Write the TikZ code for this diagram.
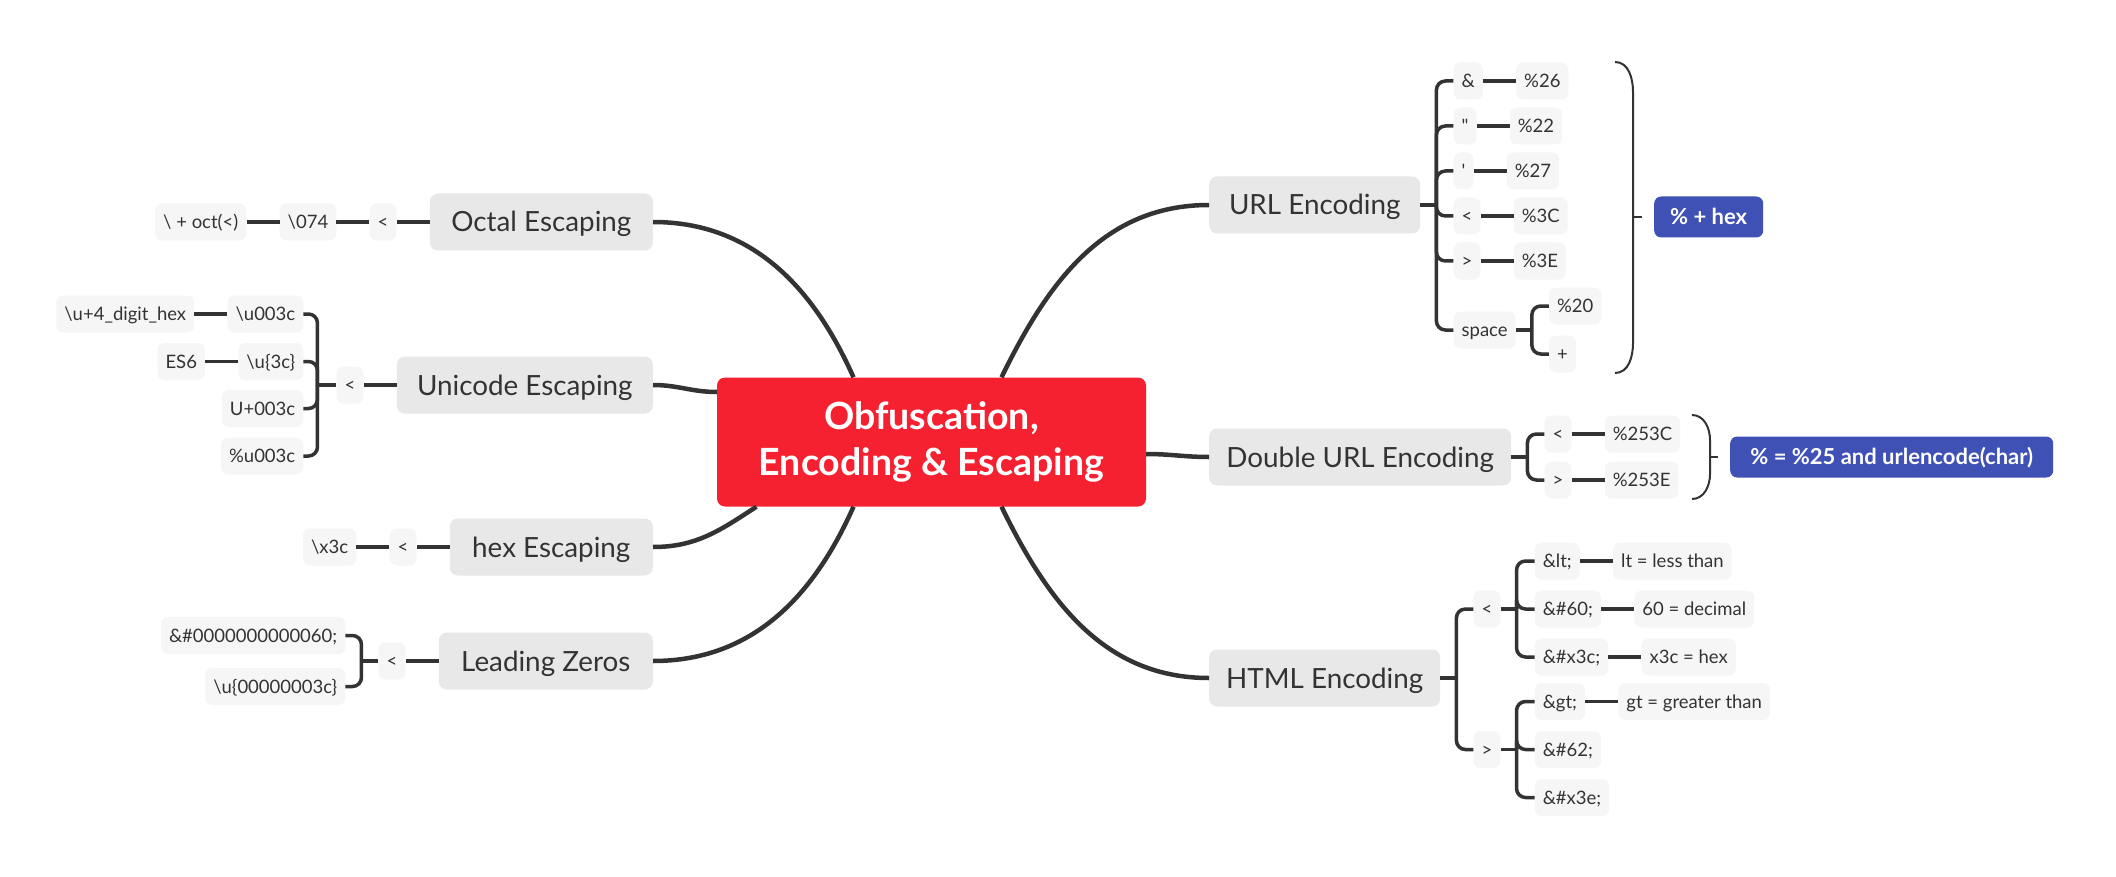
\documentclass[tikz,border=0pt]{standalone}
\usepackage{fontspec}
\setmainfont{Lato}
\usetikzlibrary{positioning}
\definecolor{mapred}{RGB}{246,33,48}
\definecolor{mapgray}{RGB}{232,232,232}
\definecolor{leafgray}{RGB}{246,246,246}
\definecolor{mapblue}{RGB}{64,81,181}
\definecolor{mapline}{RGB}{51,51,51}
\begin{document}
\begin{tikzpicture}[x=1pt,y=1pt,node distance=33pt,
        mainbox/.style={fill=mapred,text=white,rounded corners=8pt,minimum width=429pt,minimum height=129pt,align=center,font=\fontsize{37.5}{46}\selectfont\bfseries},
        topicbox/.style={fill=mapgray,text=mapline,rounded corners=8pt,minimum height=57pt,text height=20pt,text depth=0pt,font=\fontsize{27.8}{33}\selectfont},
        leafbox/.style={fill=leafgray,text=mapline,rounded corners=7pt,minimum height=37pt,inner xsep=8pt,text height=13.3pt,text depth=0pt,font=\fontsize{18.5}{22}\selectfont},
        notebox/.style={fill=mapblue,text=white,rounded corners=7pt,minimum height=41pt,text height=15.8pt,text depth=0pt,font=\fontsize{22}{26}\selectfont\bfseries},
        curve/.style={draw=mapline,line width=4.5pt},
        link/.style={draw=mapline,line width=3.5pt},
        bracket/.style={draw=mapline,line width=3.5pt,rounded corners=9pt},
        paren/.style={draw=mapline,line width=2pt}]
    \fill[white] (0,0) rectangle (2116,-877);
    \useasboundingbox (0,0) rectangle (2116,-877);

    \node[mainbox] (obf) at (931.5,-442){Obfuscation,\\Encoding \& Escaping};

    \node[topicbox,minimum width=223pt,anchor=east] (octal) at (653,-222){Octal Escaping};
    \node[leafbox,left=of octal] (octlt){<};
    \node[leafbox,left=of octlt] (oct074){\textbackslash074};
    \node[leafbox,left=of oct074] (octrule){\textbackslash{} + oct(<)};

    \node[topicbox,minimum width=256pt,anchor=east] (unicode) at (653,-385){Unicode Escaping};
    \node[leafbox,left=of unicode] (unilt){<};
    \node[leafbox,anchor=east] (uni4) at ([shift={(-33,71)}]unilt.west){\textbackslash u003c};
    \node[leafbox,anchor=east] (unies) at ([shift={(-33,23.5)}]unilt.west){\textbackslash u\{3c\}};
    \node[leafbox,anchor=east] (uniplus) at ([shift={(-33,-23.5)}]unilt.west){U+003c};
    \node[leafbox,anchor=east] (unipct) at ([shift={(-33,-71)}]unilt.west){\%u003c};
    \node[leafbox,left=of uni4] (uni4hex){\textbackslash u+4\_digit\_hex};
    \node[leafbox,left=of unies] (unies6){ES6};

    \node[topicbox,minimum width=203pt,anchor=east] (hex) at (653,-547){hex Escaping};
    \node[leafbox,left=of hex] (hexlt){<};
    \node[leafbox,left=of hexlt] (hexx){\textbackslash x3c};

    \node[topicbox,minimum width=214pt,anchor=east] (zeros) at (653,-661){Leading Zeros};
    \node[leafbox,left=of zeros] (zerolt){<};
    \node[leafbox,anchor=east] (zerohtml) at ([shift={(-33,25.5)}]zerolt.west){\&\#0000000000060;};
    \node[leafbox,anchor=east] (zerojs) at ([shift={(-33,-25.5)}]zerolt.west){\textbackslash u\{00000003c\}};

    \node[topicbox,minimum width=211pt,anchor=west] (url) at (1209,-205){URL Encoding};
    \node[leafbox,anchor=west] (urlamp) at ([shift={(33,124)}]url.east){\&};
    \node[leafbox,anchor=west] (urldq) at ([shift={(33,79)}]url.east){\textquotedbl};
    \node[leafbox,anchor=west] (urlsq) at ([shift={(33,34)}]url.east){\textquotesingle};
    \node[leafbox,anchor=west] (urllt) at ([shift={(33,-11)}]url.east){<};
    \node[leafbox,anchor=west] (urlgt) at ([shift={(33,-56)}]url.east){>};
    \node[leafbox,anchor=west] (urlsp) at ([shift={(33,-125)}]url.east){space};
    \node[leafbox,right=of urlamp] (urlamp26){\%26};
    \node[leafbox,right=of urldq] (urldq22){\%22};
    \node[leafbox,right=of urlsq] (urlsq27){\%27};
    \node[leafbox,right=of urllt] (urllt3c){\%3C};
    \node[leafbox,right=of urlgt] (urlgt3e){\%3E};
    \node[leafbox,anchor=west] (urlsp20) at ([shift={(33,24)}]urlsp.east){\%20};
    \node[leafbox,anchor=west] (urlspplus) at ([shift={(33,-24)}]urlsp.east){+};
    \node[notebox,minimum width=109pt,anchor=west] (hexnote) at (1654,-217){\% + hex};

    \node[topicbox,minimum width=302pt,anchor=west] (durl) at (1209,-457){Double URL Encoding};
    \node[leafbox,anchor=west] (durllt) at ([shift={(33,23)}]durl.east){<};
    \node[leafbox,anchor=west] (durlgt) at ([shift={(33,-23)}]durl.east){>};
    \node[leafbox,right=of durllt] (durl3c){\%253C};
    \node[leafbox,right=of durlgt] (durl3e){\%253E};
    \node[notebox,minimum width=323pt,anchor=west] (dblnote) at (1730,-457){\% = \%25 and urlencode(char)};

    \node[topicbox,minimum width=231pt,anchor=west] (html) at (1209,-678){HTML Encoding};
    \node[leafbox,anchor=west] (htmllt) at ([shift={(33,69)}]html.east){<};
    \node[leafbox,anchor=west] (htmlgt) at ([shift={(33,-71.5)}]html.east){>};
    \node[leafbox,anchor=west] (htmlname) at ([shift={(34,48)}]htmllt.east){\&lt;};
    \node[leafbox,anchor=west] (htmldec) at ([shift={(34,0)}]htmllt.east){\&\#60;};
    \node[leafbox,anchor=west] (htmlhex) at ([shift={(34,-48)}]htmllt.east){\&\#x3c;};
    \node[leafbox,right=of htmlname] (htmlnamenote){lt = less than};
    \node[leafbox,right=of htmldec] (htmldecnote){60 = decimal};
    \node[leafbox,right=of htmlhex] (htmlhexnote){x3c = hex};
    \node[leafbox,anchor=west] (htmlgtname) at ([shift={(34,48)}]htmlgt.east){\&gt;};
    \node[leafbox,anchor=west] (htmlgtdec) at ([shift={(34,0)}]htmlgt.east){\&\#62;};
    \node[leafbox,anchor=west] (htmlgthex) at ([shift={(34,-48)}]htmlgt.east){\&\#x3e;};
    \node[leafbox,right=of htmlgtname] (htmlgtnote){gt = greater than};

    \draw[curve] ([xshift=-78pt]obf.north) to[out=114,in=0] (octal.east);
    \draw[curve] ([yshift=50pt]obf.west) to[out=180,in=0] (unicode.east);
    \draw[curve] ([xshift=-175pt]obf.south) to[out=213,in=0] (hex.east);
    \draw[curve] ([xshift=-78pt]obf.south) to[out=246,in=0] (zeros.east);
    \draw[curve] ([xshift=70pt]obf.north) to[out=64,in=180] (url.west);
    \draw[curve] ([yshift=-12pt]obf.east) to[out=0,in=180] (durl.west);
    \draw[curve] ([xshift=70pt]obf.south) to[out=-64,in=180] (html.west);

    \draw[link] (octal) -- (octlt);
    \draw[link] (octlt) -- (oct074);
    \draw[link] (oct074) -- (octrule);

    \draw[link] (unicode) -- (unilt);
    \draw[link] (unilt.west) -- ++(-19,0) coordinate (unifork);
    \draw[bracket] (unifork) |- (uni4.east);
    \draw[bracket] (unifork) |- (unies.east);
    \draw[bracket] (unifork) |- (uniplus.east);
    \draw[bracket] (unifork) |- (unipct.east);
    \draw[link] (uni4) -- (uni4hex);
    \draw[link] (unies) -- (unies6);

    \draw[link] (hex) -- (hexlt);
    \draw[link] (hexlt) -- (hexx);

    \draw[link] (zeros) -- (zerolt);
    \draw[link] (zerolt.west) -- ++(-17,0) coordinate (zerofork);
    \draw[bracket] (zerofork) |- (zerohtml.east);
    \draw[bracket] (zerofork) |- (zerojs.east);

    \draw[link] (url.east) -- ++(16,0) coordinate (urlfork);
    \draw[bracket] (urlfork) |- (urlamp.west);
    \draw[bracket] (urlfork) |- (urldq.west);
    \draw[bracket] (urlfork) |- (urlsq.west);
    \draw[bracket] (urlfork) |- (urllt.west);
    \draw[bracket] (urlfork) |- (urlgt.west);
    \draw[bracket] (urlfork) |- (urlsp.west);
    \draw[link] (urlamp) -- (urlamp26);
    \draw[link] (urldq) -- (urldq22);
    \draw[link] (urlsq) -- (urlsq27);
    \draw[link] (urllt) -- (urllt3c);
    \draw[link] (urlgt) -- (urlgt3e);
    \draw[link] (urlsp.east) -- ++(16,0) coordinate (spfork);
    \draw[bracket] (spfork) |- (urlsp20.west);
    \draw[bracket] (spfork) |- (urlspplus.west);
    \draw[paren] (1615,-62) to[out=0,in=90] (1633,-92) -- (1633,-343) to[out=-90,in=0] (1615,-373);
    \draw[paren] (1633,-217) -- (1642,-217);

    \draw[link] (durl.east) -- ++(16,0) coordinate (durlfork);
    \draw[bracket] (durlfork) |- (durllt.west);
    \draw[bracket] (durlfork) |- (durlgt.west);
    \draw[link] (durllt) -- (durl3c);
    \draw[link] (durlgt) -- (durl3e);
    \draw[paren] (1692,-415) to[out=0,in=90] (1710,-440) -- (1710,-474) to[out=-90,in=0] (1692,-499);
    \draw[paren] (1710,-457) -- (1718,-457);

    \draw[link] (html.east) -- ++(16,0) coordinate (htmlfork);
    \draw[bracket] (htmlfork) |- (htmllt.west);
    \draw[bracket] (htmlfork) |- (htmlgt.west);
    \draw[link] (htmllt.east) -- ++(16,0) coordinate (ltfork);
    \draw[bracket] (ltfork) |- (htmlname.west);
    \draw[bracket] (ltfork) |- (htmldec.west);
    \draw[bracket] (ltfork) |- (htmlhex.west);
    \draw[link] (htmlgt.east) -- ++(16,0) coordinate (gtfork);
    \draw[bracket] (gtfork) |- (htmlgtname.west);
    \draw[bracket] (gtfork) |- (htmlgtdec.west);
    \draw[bracket] (gtfork) |- (htmlgthex.west);
    \draw[link] (htmlname) -- (htmlnamenote);
    \draw[link] (htmldec) -- (htmldecnote);
    \draw[link] (htmlhex) -- (htmlhexnote);
    \draw[link] (htmlgtname) -- (htmlgtnote);
\end{tikzpicture}
\end{document}
